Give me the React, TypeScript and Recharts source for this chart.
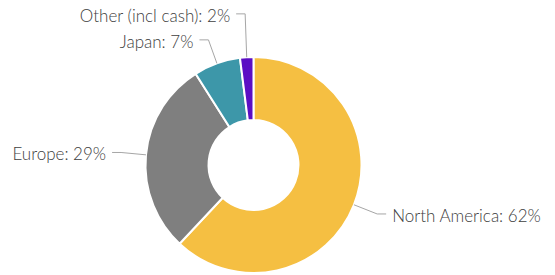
import React from "react";
import { PieChart, Pie, Cell } from "recharts";

const regions = ["North America", "Europe", "Japan", "Other (incl cash)"];
const shares = [62, 29, 7, 2];
const colors = ["#F5BF42", "#7F7F7F", "#3D97A9", "#5B0EC4"];

const data = regions.map((name, i) => ({ name, value: shares[i] }));

const RAD = Math.PI / 180;
const placed: Record<number, { y: number; side: number }> = {};

const renderLabel = (props: any) => {
  const { cx, cy, outerRadius, midAngle, index, name, value } = props;
  const cos = Math.cos(-midAngle * RAD);
  const sin = Math.sin(-midAngle * RAD);
  const sx = cx + outerRadius * cos;
  const sy = cy + outerRadius * sin;
  const ex = cx + (outerRadius + 25) * cos;
  let ey = cy + (outerRadius + 25) * sin;
  const side = cos >= 0 ? 1 : -1;
  for (let j = 0; j < index; j++) {
    const p = placed[j];
    if (p && p.side === side && Math.abs(p.y - ey) < 26) {
      ey = ey < p.y ? p.y - 26 : p.y + 26;
    }
  }
  placed[index] = { y: ey, side };
  const mx = ex + side * 9;
  const tx = mx + side * 6;
  return (
    <g>
      <polyline
        points={`${sx},${sy} ${ex},${ey} ${mx},${ey}`}
        fill="none"
        stroke="#A6A6A6"
        strokeWidth={1}
      />
      <text
        x={tx}
        y={ey + 1.5}
        textAnchor={side > 0 ? "start" : "end"}
        dominantBaseline="central"
        fill="#404040"
        fontSize={17}
        fontWeight={300}
        fontFamily="Lato, 'Noto Sans', sans-serif"
      >
        {`${name}: ${value}%`}
      </text>
    </g>
  );
};

export default function App() {
  return (
    <div style={{ position: "absolute", left: 0, top: 0 }}>
      <PieChart width={555} height={275} margin={{ top: 0, right: 0, bottom: 0, left: 0 }}>
        <Pie
          data={data}
          dataKey="value"
          nameKey="name"
          cx={253.5}
          cy={165}
          innerRadius={45}
          outerRadius={108}
          startAngle={90}
          endAngle={-270}
          stroke="#FFFFFF"
          strokeWidth={2}
          label={renderLabel}
          labelLine={false}
          isAnimationActive={false}
        >
          {data.map((d, i) => (
            <Cell key={d.name} fill={colors[i]} />
          ))}
        </Pie>
      </PieChart>
    </div>
  );
}
